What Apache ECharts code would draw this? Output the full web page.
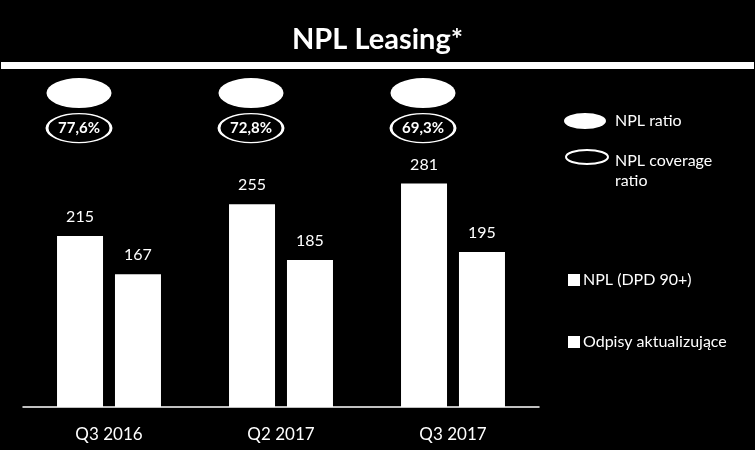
<!DOCTYPE html>
<html>
<head>
<meta charset="utf-8">
<script src="https://cdn.jsdelivr.net/npm/echarts@6/dist/echarts.min.js"></script>
<style>html,body{margin:0;padding:0;background:#000;}#c{width:755px;height:450px;}</style>
</head>
<body>
<div id="c"></div>
<script>
const categories = ['Q3 2016', 'Q2 2017', 'Q3 2017'];
const nplDpd90 = [215, 255, 281];
const odpisy = [167, 185, 195];
const coverageRatio = [77.6, 72.8, 69.3];
const seriesNames = ['NPL (DPD 90+)', 'Odpisy aktualizujące', 'NPL ratio', 'NPL coverage ratio'];

const FONT = 'Lato';
const ELLIPSE = 'path://M0,50A50,50,0,1,1,100,50A50,50,0,1,1,0,50Z';
const ROW_FILLED = 94;
const ROW_OUTLINE = 83.5;

const chart = echarts.init(document.getElementById('c'));
chart.setOption({
  backgroundColor: '#000',
  animation: false,
  title: {
    text: 'NPL Leasing*',
    left: 'center',
    top: 20,
    textStyle: { color: '#fff', fontFamily: FONT, fontWeight: 'bold', fontSize: 29 }
  },
  graphic: [{
    type: 'rect', shape: { x: 1, y: 62, width: 753, height: 7 }, style: { fill: '#fff' }, silent: true
  }],
  grid: { left: 23, right: 216, top: 73, bottom: 43 },
  xAxis: {
    type: 'category',
    data: categories,
    axisLine: { lineStyle: { color: '#fff', width: 1.5 } },
    axisTick: { show: false },
    axisLabel: { color: '#fff', fontFamily: FONT, fontSize: 17, margin: 19 }
  },
  yAxis: [
    { type: 'value', min: 0, max: 420, show: false },
    { type: 'value', min: 0, max: 100, show: false }
  ],
  legend: [
    {
      data: [{ name: seriesNames[2], icon: ELLIPSE }],
      left: 564, top: 113, padding: 0, itemWidth: 42, itemHeight: 16, symbolKeepAspect: false,
      selectedMode: false,
      textStyle: { color: '#fff', fontFamily: FONT, fontSize: 16, padding: [0, 0, 0, 4] }
    },
    {
      data: [{ name: seriesNames[3], icon: ELLIPSE }],
      left: 565, top: 123, padding: 0, itemWidth: 42, itemHeight: 14, symbolKeepAspect: false,
      selectedMode: false,
      formatter: function () { return '{s| }\n{t|NPL coverage}\n{t|ratio}'; },
      textStyle: {
        color: '#fff', fontFamily: FONT, fontSize: 16, padding: [0, 0, 0, 2],
        rich: {
          s: { fontSize: 8, height: 28, lineHeight: 28 },
          t: { color: '#fff', fontFamily: FONT, fontSize: 16, lineHeight: 20 }
        }
      }
    },
    {
      data: [{ name: seriesNames[0], icon: 'rect' }],
      left: 568, top: 272, padding: 0, itemWidth: 12, itemHeight: 12,
      textStyle: { color: '#fff', fontFamily: FONT, fontSize: 16, padding: [0, 0, 0, -2] }
    },
    {
      data: [{ name: seriesNames[1], icon: 'rect' }],
      left: 568, top: 334, padding: 0, itemWidth: 12, itemHeight: 12,
      textStyle: { color: '#fff', fontFamily: FONT, fontSize: 16, padding: [0, 0, 0, -2] }
    }
  ],
  series: [
    {
      name: seriesNames[0], type: 'bar', data: nplDpd90, barWidth: 46, barGap: '26%',
      itemStyle: { color: '#fff' },
      label: { show: true, position: 'top', distance: 11, color: '#fff', fontFamily: FONT, fontSize: 16 }
    },
    {
      name: seriesNames[1], type: 'bar', data: odpisy, barWidth: 46, barGap: '26%',
      itemStyle: { color: '#fff' },
      label: { show: true, position: 'top', distance: 11, color: '#fff', fontFamily: FONT, fontSize: 16 }
    },
    {
      name: seriesNames[2], type: 'scatter', yAxisIndex: 1,
      data: categories.map(function (c, i) { return [i, ROW_FILLED]; }),
      symbol: ELLIPSE, symbolSize: [65, 30], symbolKeepAspect: false, symbolOffset: [-30, 0],
      itemStyle: { color: '#fff', opacity: 1 }
    },
    {
      name: seriesNames[3], type: 'scatter', yAxisIndex: 1,
      data: categories.map(function (c, i) { return [i, ROW_OUTLINE, coverageRatio[i]]; }),
      symbol: ELLIPSE, symbolSize: [64, 29], symbolKeepAspect: false, symbolOffset: [-30, 0],
      itemStyle: { color: '#000', borderColor: '#fff', borderWidth: 2, opacity: 1 },
      label: {
        show: true, position: 'inside', color: '#fff', fontFamily: FONT, fontSize: 15, fontWeight: 'bold',
        formatter: function (p) { return p.value[2].toFixed(1).replace('.', ',') + '%'; }
      }
    }
  ]
});
</script>
</body>
</html>
